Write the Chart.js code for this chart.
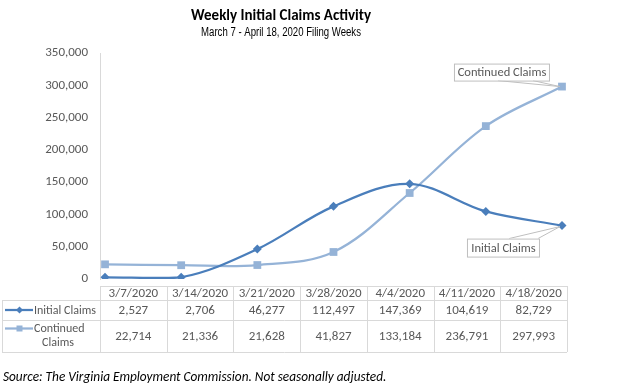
<!DOCTYPE html>
<html>
<head>
<meta charset="utf-8">
<script src="https://cdn.jsdelivr.net/npm/chart.js@4.4.1/dist/chart.umd.min.js"></script>
<style>
  html, body { margin: 0; padding: 0; background: #ffffff; }
  #wrap { position: relative; width: 626px; height: 388px; }
  canvas { display: block; }
</style>
</head>
<body>
<div id="wrap"><canvas id="c" width="626" height="388"></canvas></div>
<script>
// ---- data ----
const weeks = ['3/7/2020', '3/14/2020', '3/21/2020', '3/28/2020', '4/4/2020', '4/11/2020', '4/18/2020'];
const initialClaims = [2527, 2706, 46277, 112497, 147369, 104619, 82729];
const continuedClaims = [22714, 21336, 21628, 41827, 133184, 236791, 297993];
const seriesNames = ['Initial Claims', 'Continued Claims'];
const yMin = 0, yMax = 350000, yStep = 50000;
const titleText = 'Weekly Initial Claims Activity';
const subtitleText = 'March 7 - April 18, 2020 Filing Weeks';
const sourceText = 'Source: The Virginia Employment Commission. Not seasonally adjusted.';

const FONT = 'Carlito, Calibri, "Open Sans", sans-serif';
const NARROW = '"Liberation Sans", Arial, sans-serif';
const C_INIT = '#4A7EBB';
const C_CONT = '#95B3D7';
const GRID = '#D9D9D9';
const TXT = '#595959';

const fmt = v => v.toLocaleString('en-US');

function drawDiamond(ctx, x, y, r, color) {
  ctx.save(); ctx.fillStyle = color; ctx.beginPath();
  ctx.moveTo(x, y - r); ctx.lineTo(x + r, y); ctx.lineTo(x, y + r); ctx.lineTo(x - r, y);
  ctx.closePath(); ctx.fill(); ctx.restore();
}
function drawSquare(ctx, x, y, h, color) {
  ctx.save(); ctx.fillStyle = color; ctx.fillRect(x - h, y - h, 2 * h, 2 * h); ctx.restore();
}

const extras = {
  id: 'extras',
  afterDatasetsDraw(chart) {
    const ctx = chart.ctx;
    const m0 = chart.getDatasetMeta(0).data;
    const m1 = chart.getDatasetMeta(1).data;
    const pI = m0[m0.length - 1], pC = m1[m1.length - 1];
    ctx.save();
    ctx.font = '12.5px ' + FONT;
    ctx.textBaseline = 'middle';
    ctx.textAlign = 'center';
    ctx.strokeStyle = '#BFBFBF'; ctx.lineWidth = 1;
    // Continued Claims box
    let w = 95, h = 17;
    let bx = pC.x - 108, by = pC.y - 23;
    ctx.beginPath(); ctx.moveTo(bx + 44, by + h); ctx.lineTo(pC.x - 2, pC.y); ctx.lineTo(bx + 79, by + h); ctx.stroke();
    ctx.fillStyle = '#fff'; ctx.fillRect(bx, by, w, h);
    ctx.strokeRect(bx + 0.5, by + 0.5, w, h);
    ctx.fillStyle = TXT; ctx.fillText(seriesNames[1], bx + w / 2 + 0.5, by + h / 2 + 1);
    // Initial Claims box
    w = 72; h = 18;
    bx = pI.x - 95; by = pI.y + 13;
    ctx.beginPath(); ctx.moveTo(bx + 42, by); ctx.lineTo(pI.x - 2, pI.y + 1); ctx.lineTo(bx + 71, by); ctx.stroke();
    ctx.fillStyle = '#fff'; ctx.fillRect(bx, by, w, h);
    ctx.strokeRect(bx + 0.5, by + 0.5, w, h);
    ctx.fillStyle = TXT; ctx.fillText(seriesNames[0], bx + w / 2 + 0.5, by + h / 2 + 1);
    ctx.restore();
  },
  afterDraw(chart) {
    const ctx = chart.ctx;
    const ca = chart.chartArea;
    ctx.save();
    // titles
    ctx.textAlign = 'center'; ctx.textBaseline = 'middle';
    ctx.fillStyle = '#000';
    ctx.font = 'bold 15px ' + FONT;
    ctx.fillText(titleText, 281, 16);
    ctx.save();
    ctx.translate(281, 33);
    ctx.scale(0.8, 1);
    ctx.font = '12px ' + NARROW;
    ctx.fillText(subtitleText, 0, 0);
    ctx.restore();
    // source
    ctx.textAlign = 'left';
    ctx.font = 'italic 13.3px ' + FONT;
    ctx.fillText(sourceText, 3, 378);

    // data table
    const n = weeks.length;
    const colW = (ca.right - ca.left) / n;
    const L = 2, X0 = ca.left, R = ca.right;
    const yT = 286, y1 = 300, y2 = 320, y3 = 352;
    ctx.strokeStyle = GRID; ctx.lineWidth = 1;
    ctx.beginPath();
    ctx.moveTo(X0, yT + 0.5); ctx.lineTo(R, yT + 0.5);
    [y1, y2, y3].forEach(y => { ctx.moveTo(L, y + 0.5); ctx.lineTo(R, y + 0.5); });
    ctx.moveTo(L + 0.5, y1); ctx.lineTo(L + 0.5, y3);
    for (let i = 0; i <= n; i++) {
      const x = Math.round(X0 + i * colW) + 0.5;
      ctx.moveTo(x, yT); ctx.lineTo(x, y3);
    }
    ctx.stroke();

    ctx.font = '13px ' + FONT;
    ctx.fillStyle = TXT;
    ctx.textAlign = 'center';
    for (let i = 0; i < n; i++) {
      const cx = X0 + (i + 0.5) * colW;
      ctx.fillText(weeks[i], cx, (yT + y1) / 2 + 1);
      ctx.fillText(fmt(initialClaims[i]), cx, (y1 + y2) / 2 + 1);
      ctx.fillText(fmt(continuedClaims[i]), cx, (y2 + y3) / 2 + 1);
    }
    // legend keys
    ctx.lineWidth = 2.25;
    ctx.strokeStyle = C_INIT;
    ctx.beginPath(); ctx.moveTo(5, 310); ctx.lineTo(33, 310); ctx.stroke();
    drawDiamond(ctx, 19.5, 310, 3.5, C_INIT);
    ctx.strokeStyle = C_CONT;
    ctx.beginPath(); ctx.moveTo(5, 328.5); ctx.lineTo(33, 328.5); ctx.stroke();
    drawSquare(ctx, 19.5, 328.5, 3, C_CONT);
    ctx.font = '12px ' + FONT;
    ctx.fillStyle = TXT;
    ctx.textAlign = 'left';
    ctx.fillText(seriesNames[0], 34, 310.5);
    ctx.fillText('Continued', 34, 328.5);
    ctx.textAlign = 'center';
    ctx.fillText('Claims', 58, 342.5);
    ctx.restore();
  }
};

new Chart(document.getElementById('c'), {
  type: 'line',
  data: {
    datasets: [
      {
        label: seriesNames[0],
        data: initialClaims.map((v, i) => ({ x: i, y: v })),
        borderColor: C_INIT, backgroundColor: C_INIT,
        borderWidth: 2.25, tension: 0.35,
        pointStyle: 'rectRot', pointRadius: 4.5, pointHoverRadius: 4.5,
        pointBorderWidth: 0
      },
      {
        label: seriesNames[1],
        data: continuedClaims.map((v, i) => ({ x: i, y: v })),
        borderColor: C_CONT, backgroundColor: C_CONT,
        borderWidth: 2.25, tension: 0.35,
        pointStyle: 'rect', pointRadius: 5.5, pointHoverRadius: 5.5,
        pointBorderWidth: 0
      }
    ]
  },
  options: {
    responsive: false,
    animation: false,
    events: [],
    layout: { padding: { top: 53, bottom: 109, left: 0, right: 59 } },
    plugins: { legend: { display: false }, tooltip: { enabled: false }, title: { display: false } },
    scales: {
      x: {
        type: 'linear', display: false,
        min: -0.066, max: weeks.length - 1 + 0.066
      },
      y: {
        min: yMin, max: yMax,
        grid: { display: false, drawTicks: false },
        border: { display: true, color: GRID, width: 1 },
        ticks: {
          stepSize: yStep, padding: 12, color: TXT,
          font: { family: FONT, size: 13 },
          callback: v => fmt(v)
        },
        afterFit(scale) { scale.width = 100; }
      }
    }
  },
  plugins: [extras]
});
</script>
</body>
</html>
